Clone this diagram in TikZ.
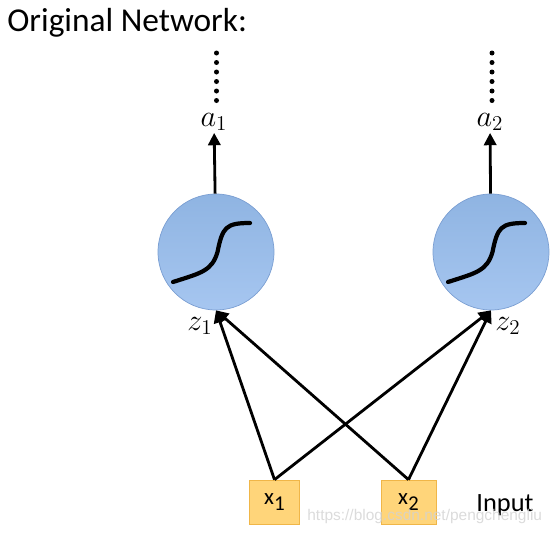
\documentclass[tikz,border=0pt]{standalone}
\usepackage{fontspec}
\setmainfont{Carlito}
\newfontfamily\wmfont{Liberation Sans}
\usepackage{amsmath}
\usepackage{xcolor}
\usetikzlibrary{arrows.meta, positioning, calc}

\definecolor{neuronfill}{RGB}{143,180,226}
\definecolor{neuronlow}{RGB}{166,198,240}
\definecolor{neurondraw}{RGB}{122,158,210}
\definecolor{inputfill}{RGB}{255,213,122}
\definecolor{inputdraw}{RGB}{240,182,72}

\tikzset{
  neuron/.style={circle, draw=neurondraw, top color=neuronfill, bottom color=neuronlow, minimum size=2.32cm, inner sep=0pt},
  inbox/.style={draw=inputdraw, fill=inputfill, minimum width=1.0cm, minimum height=0.88cm, inner sep=0pt, font=\fontsize{13}{14}\selectfont},
  conn/.style={line width=1.6pt, -{Triangle[length=7pt, width=7pt]}},
  lbl/.style={font=\fontsize{17}{19}\selectfont, inner sep=1pt}
}

\begin{document}
\begin{tikzpicture}
  \useasboundingbox (0,0) rectangle (11.14,-10.68);

  % Titel
  \node[anchor=west, font=\fontsize{19}{22}\selectfont, inner sep=0pt] (title) at (0.14,-0.46) {Original Network:};

  % Neuronen
  \node[neuron] (n1) at (4.32,-5.04) {};
  \node[neuron] (n2) at (9.82,-5.04) {};
  \foreach \n in {n1, n2} {
      \draw[line width=2.4pt, line cap=round] ($(\n)+(-0.86,-0.6)$) .. controls ($(\n)+(-0.3,-0.42)$) and ($(\n)+(-0.08,-0.38)$) .. ($(\n)+(0.03,0.0)$)
        .. controls ($(\n)+(0.13,0.5)$) and ($(\n)+(0.2,0.58)$) .. ($(\n)+(0.68,0.58)$);
  }

  % Ausgaenge
  \node[lbl] (a1) at (4.28,-2.44) {$a_1$};
  \node[lbl] (a2) at (9.80,-2.44) {$a_2$};
  \draw[conn] (n1) -- (a1);
  \draw[conn] (n2) -- (a2);
  \foreach \x in {4.33, 9.84} {
      \foreach \y in {1.06,1.25,...,2.02} {
          \fill (\x,-\y) circle (0.05);
      }
  }

  % Summen
  \node[lbl] (z1) at (4.0,-6.52) {$z_1$};
  \node[lbl] (z2) at (10.16,-6.52) {$z_2$};

  % Eingaben
  \node[inbox] (x1) at (5.49,-10.04) {x\raisebox{-0.5ex}{\fontsize{12}{13}\selectfont 1}};
  \node[inbox, minimum width=1.1cm] (x2) at (8.17,-10.04) {x\raisebox{-0.5ex}{\fontsize{12}{13}\selectfont 2}};
  \node[font=\fontsize{15}{17}\selectfont] (inp) at (10.1,-10.1) {Input};

  % Verbindungen
  \draw[conn] (x1.north) -- (n1.south);
  \draw[conn] (x1.north) -- (n2.south);
  \draw[conn] (x2.north) -- (n1.south);
  \draw[conn] (x2.north) -- (n2.south);

  % Wasserzeichen
  \node[anchor=west, font=\wmfont\fontsize{8.8}{10}\selectfont, text=gray!35, opacity=0.8, inner sep=0pt] (wm) at (6.14,-10.32) {https://blog.csdn.net/pengchengliu};
\end{tikzpicture}
\end{document}
